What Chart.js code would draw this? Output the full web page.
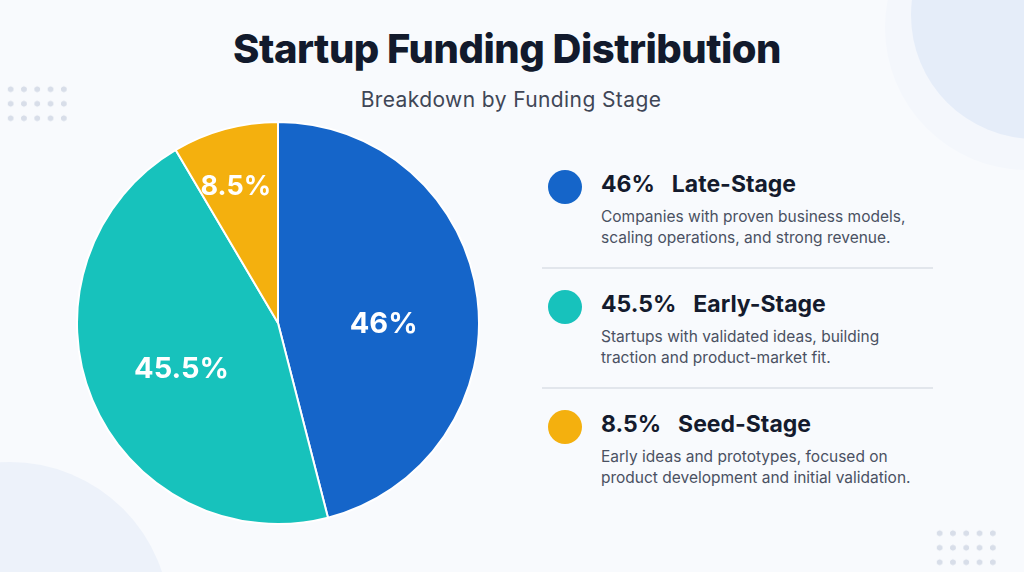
<!DOCTYPE html>
<html>
<head>
<meta charset="utf-8">
<script src="https://cdn.jsdelivr.net/npm/chart.js@4.4.1/dist/chart.umd.min.js"></script>
<style>
  html, body { margin: 0; padding: 0; }
  body {
    width: 1024px; height: 572px; overflow: hidden; position: relative;
    background: #f8fafd; font-family: "Inter", "Noto Sans", sans-serif;
  }
  .blob { position: absolute; border-radius: 50%; }
  .dots {
    position: absolute;
    background-image: radial-gradient(circle, #d8dee9 2.6px, transparent 3.2px);
    background-size: 13.3px 14.5px;
  }
  h1 {
    position: absolute; left: 0; width: 1014px; top: 24px; margin: 0;
    text-align: center; font-size: 40px; font-weight: 800; color: #121a2c;
    letter-spacing: -0.5px;
  }
  .sub {
    position: absolute; left: 0; width: 1022px; top: 87px;
    text-align: center; font-size: 21px; color: #3f4656; letter-spacing: 0.4px;
  }
  #pie { position: absolute; left: 76px; top: 121px; }
  .item { position: absolute; left: 548px; width: 390px; }
  .item .dot { position: absolute; left: 0; top: 3px; width: 34px; height: 34px; border-radius: 50%; }
  .item .head {
    position: absolute; left: 53px; top: 0; line-height: 34px;
    font-size: 23px; font-weight: 700; color: #141b2d; white-space: nowrap;
  }
  .item .head span { margin-right: 17px; }
  .item .desc {
    position: absolute; left: 53px; top: 39px; width: 360px; white-space: pre-line;
    font-size: 15.5px; line-height: 21px; color: #4a5162;
  }
  .item .sep { position: absolute; left: -6px; top: 100px; width: 391px; height: 1.5px; background: #e2e6ec; }
</style>
</head>
<body>
<div class="blob" style="left:885px; top:-115px; width:285px; height:285px; background:#f4f7fc;"></div>
<div class="blob" style="left:911px; top:-109px; width:248px; height:248px; background:#e5edf9;"></div>
<div class="blob" style="left:-150px; top:462px; width:320px; height:320px; background:#edf2fa;"></div>
<div class="dots" style="left:4px; top:82px; width:66px; height:44px;"></div>
<div class="dots" style="left:933px; top:526px; width:66px; height:44px;"></div>

<h1>Startup Funding Distribution</h1>
<div class="sub">Breakdown by Funding Stage</div>
<canvas id="pie" width="404" height="404"></canvas>
<div id="legend"></div>

<script>
// chart data
const stages = ['Late-Stage', 'Early-Stage', 'Seed-Stage'];
const shares = [46, 45.5, 8.5];
const shareLabels = ['46%', '45.5%', '8.5%'];
const descriptions = [
  'Companies with proven business models,\nscaling operations, and strong revenue.',
  'Startups with validated ideas, building\ntraction and product-market fit.',
  'Early ideas and prototypes, focused on\nproduct development and initial validation.'
];
const stageColors = ['#1565c9', '#17c2bc', '#f4b00e'];

// percent labels inside the slices
const sliceLabels = {
  id: 'sliceLabels',
  afterDatasetsDraw(chart, args, opts) {
    const ctx = chart.ctx;
    chart.getDatasetMeta(0).data.forEach((arc, i) => {
      const mid = (arc.startAngle + arc.endAngle) / 2;
      const r = arc.outerRadius * opts.radius[i];
      ctx.save();
      ctx.fillStyle = '#fff';
      ctx.font = opts.size[i] + 'px Inter, sans-serif';
      ctx.font = '700 ' + ctx.font;
      ctx.textAlign = 'center';
      ctx.textBaseline = 'middle';
      ctx.fillText(shareLabels[i], arc.x + Math.cos(mid) * r + opts.dx[i], arc.y + Math.sin(mid) * r + opts.dy[i]);
      ctx.restore();
    });
  }
};

new Chart(document.getElementById('pie'), {
  type: 'pie',
  data: {
    labels: stages,
    datasets: [{ data: shares, backgroundColor: stageColors, borderColor: '#ffffff', borderWidth: 2 }]
  },
  options: {
    responsive: false,
    animation: false,
    layout: { padding: 0 },
    plugins: {
      legend: { display: false },
      tooltip: { enabled: false },
      sliceLabels: { radius: [0.53, 0.53, 0.72], dx: [0, 2, -4], dy: [15, 6, 3], size: [29, 29, 27] }
    }
  },
  plugins: [sliceLabels]
});

// side legend
const legend = document.getElementById('legend');
stages.forEach((name, i) => {
  const el = document.createElement('div');
  el.className = 'item';
  el.style.top = (167 + i * 120) + 'px';
  el.innerHTML =
    '<div class="dot" style="background:' + stageColors[i] + '"></div>' +
    '<div class="head"><span>' + shareLabels[i] + '</span>' + name + '</div>' +
    '<div class="desc">' + descriptions[i] + '</div>' +
    (i < stages.length - 1 ? '<div class="sep"></div>' : '');
  legend.appendChild(el);
});
</script>
</body>
</html>
